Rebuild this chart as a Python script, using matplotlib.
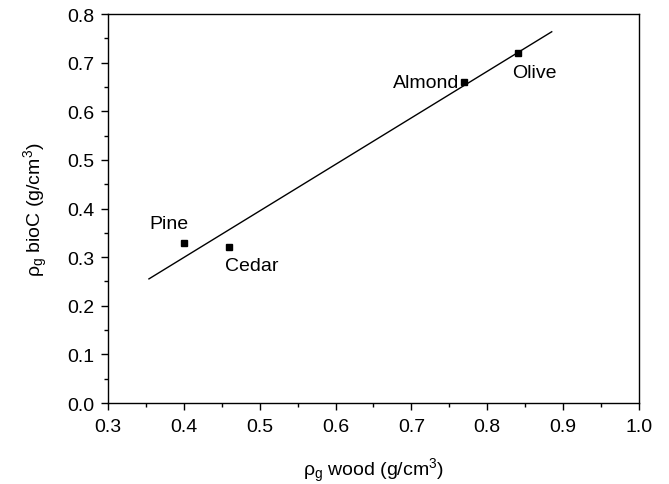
import matplotlib
matplotlib.use('Agg')
import matplotlib.pyplot as plt
import numpy as np
from matplotlib.ticker import MultipleLocator

plt.rcParams['font.family'] = 'Liberation Sans'
plt.rcParams['mathtext.fontset'] = 'custom'
plt.rcParams['mathtext.rm'] = 'Liberation Sans'
plt.rcParams['mathtext.it'] = 'Liberation Sans'

# data
names = ['Pine', 'Cedar', 'Almond', 'Olive']
wood = np.array([0.40, 0.46, 0.77, 0.84])
bioc = np.array([0.33, 0.32, 0.66, 0.72])
# label offsets in points
offsets = [(-11, 14), (16, -13), (-4, 0), (12, -14)]
aligns = ['center', 'center', 'right', 'center']

slope, icpt = np.polyfit(wood, bioc, 1)
xfit = np.array([0.354, 0.885])

fig = plt.figure(figsize=(6.69, 4.85), dpi=100)
ax = fig.add_axes([0.1614, 0.167, 0.7937, 0.802])
ax.plot(xfit, slope * xfit + icpt, color='black', lw=1.0)
ax.plot(wood, bioc, 's', color='black', ms=5)
for n, x, y, o, ha in zip(names, wood, bioc, offsets, aligns):
    ax.annotate(n, (x, y), xytext=o, textcoords='offset points',
                ha=ha, va='center', fontsize=14)

ax.set_xlim(0.3, 1.0)
ax.set_ylim(0.0, 0.8)
ax.xaxis.set_major_locator(MultipleLocator(0.1))
ax.xaxis.set_minor_locator(MultipleLocator(0.05))
ax.yaxis.set_major_locator(MultipleLocator(0.1))
ax.yaxis.set_minor_locator(MultipleLocator(0.05))
ax.xaxis.set_major_formatter(plt.FormatStrFormatter('%.1f'))
ax.yaxis.set_major_formatter(plt.FormatStrFormatter('%.1f'))
ax.tick_params(which='major', direction='out', length=5, width=1, labelsize=14)
ax.tick_params(axis='x', which='major', pad=6)
ax.tick_params(axis='y', which='major', pad=5)
ax.tick_params(which='minor', direction='out', length=3, width=1)
for s in ax.spines.values():
    s.set_linewidth(1.0)
ax.set_xlabel(r'$\rho_g$ wood (g/cm$^3$)', fontsize=14, labelpad=15)
ax.set_ylabel(r'$\rho_g$ bioC (g/cm$^3$)', fontsize=14, labelpad=12)

fig.savefig('out.png', dpi=100)
